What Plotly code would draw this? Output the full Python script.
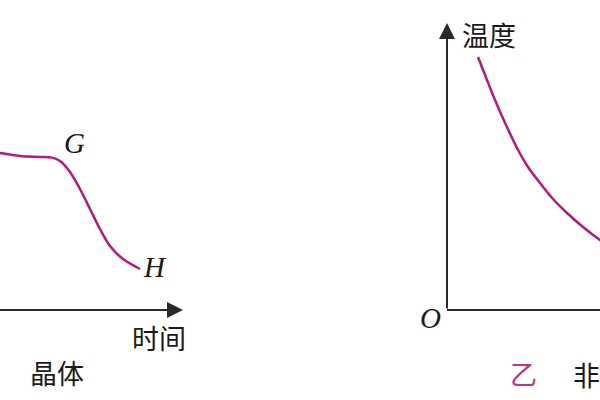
import plotly.graph_objects as go

# Left panel (晶体 cooling curve), visible portion only
crystal_time = [8.0, 9.0, 10.0, 10.6, 11.0, 11.5, 12.0, 12.5, 13.0, 13.5, 14.15, 15.0]
crystal_temp = [7.85, 7.7, 7.65, 7.62, 7.45, 6.9, 6.05, 5.05, 4.05, 3.2, 2.55, 2.05]

# Right panel (非晶体 cooling curve)
amorph_time = [1.55, 2.0, 2.4, 2.95, 3.5, 4.05, 4.65, 5.3, 6.0, 6.8, 7.65, 8.65]
amorph_temp = [12.65, 11.5, 10.5, 9.25, 8.1, 7.15, 6.35, 5.55, 4.85, 4.15, 3.5, 2.85]

curve_color = "#B3197C"
axis_color = "#2a2a2a"
cjk = "Noto Sans CJK SC"
serif = "Liberation Serif"

fig = go.Figure()
fig.add_trace(go.Scatter(x=crystal_time, y=crystal_temp, mode="lines",
                         line=dict(color=curve_color, width=2.5, shape="spline", smoothing=0.8),
                         xaxis="x", yaxis="y", hoverinfo="skip"))
fig.add_trace(go.Scatter(x=amorph_time, y=amorph_temp, mode="lines",
                         line=dict(color=curve_color, width=2.5, shape="spline", smoothing=0.8),
                         xaxis="x2", yaxis="y2", hoverinfo="skip"))

ax_common = dict(visible=False, showgrid=False, zeroline=False, fixedrange=True)
fig.update_layout(
    width=600, height=400, margin=dict(l=0, r=0, t=0, b=0),
    paper_bgcolor="white", plot_bgcolor="white", showlegend=False,
    xaxis=dict(range=[8.0, 38.0], domain=[0, 1], **ax_common),
    yaxis=dict(range=[-4.5, 15.5], domain=[0, 1], **ax_common),
    xaxis2=dict(range=[-22.35, 7.65], domain=[0, 1], overlaying="x", **ax_common),
    yaxis2=dict(range=[-4.5, 15.5], domain=[0, 1], overlaying="y", anchor="x2", **ax_common),
)

# Axes lines with arrows
fig.add_annotation(x=17.15, y=0, ax=7.5, ay=0, xref="x", yref="y", axref="x", ayref="y",
                   showarrow=True, arrowhead=2, arrowsize=1.6, arrowwidth=2, arrowcolor=axis_color, text="")
fig.add_annotation(x=0, y=14.35, ax=0, ay=0, xref="x2", yref="y2", axref="x2", ayref="y2",
                   showarrow=True, arrowhead=2, arrowsize=1.6, arrowwidth=2, arrowcolor=axis_color, text="")
fig.add_shape(type="line", x0=0, y0=0, x1=9, y1=0, xref="x2", yref="y2",
              line=dict(color=axis_color, width=2))

def label(x, y, text, xr, yr, font, size, color="#1a1a1a", italic=False):
    t = f"<i>{text}</i>" if italic else text
    fig.add_annotation(x=x, y=y, xref=xr, yref=yr, text=t, showarrow=False,
                       font=dict(family=font, size=size, color=color))

label(11.7, 8.35, "G", "x", "y", serif, 29, italic=True)
label(15.75, 2.15, "H", "x", "y", serif, 29, italic=True)
label(15.95, -1.35, "时间", "x", "y", cjk, 27)
label(10.85, -3.1, "晶体", "x", "y", cjk, 27)

label(2.1, 13.8, "温度", "x2", "y2", cjk, 27)
label(-0.85, -0.4, "O", "x2", "y2", serif, 29, italic=True)
label(3.8, -3.15, "乙", "x2", "y2", cjk, 27, color="#C0338D")
label(6.95, -3.2, "非", "x2", "y2", cjk, 27)

fig.write_html("out.html", config={"displayModeBar": False, "staticPlot": True},
               post_script="document.body.style.margin='0';")
